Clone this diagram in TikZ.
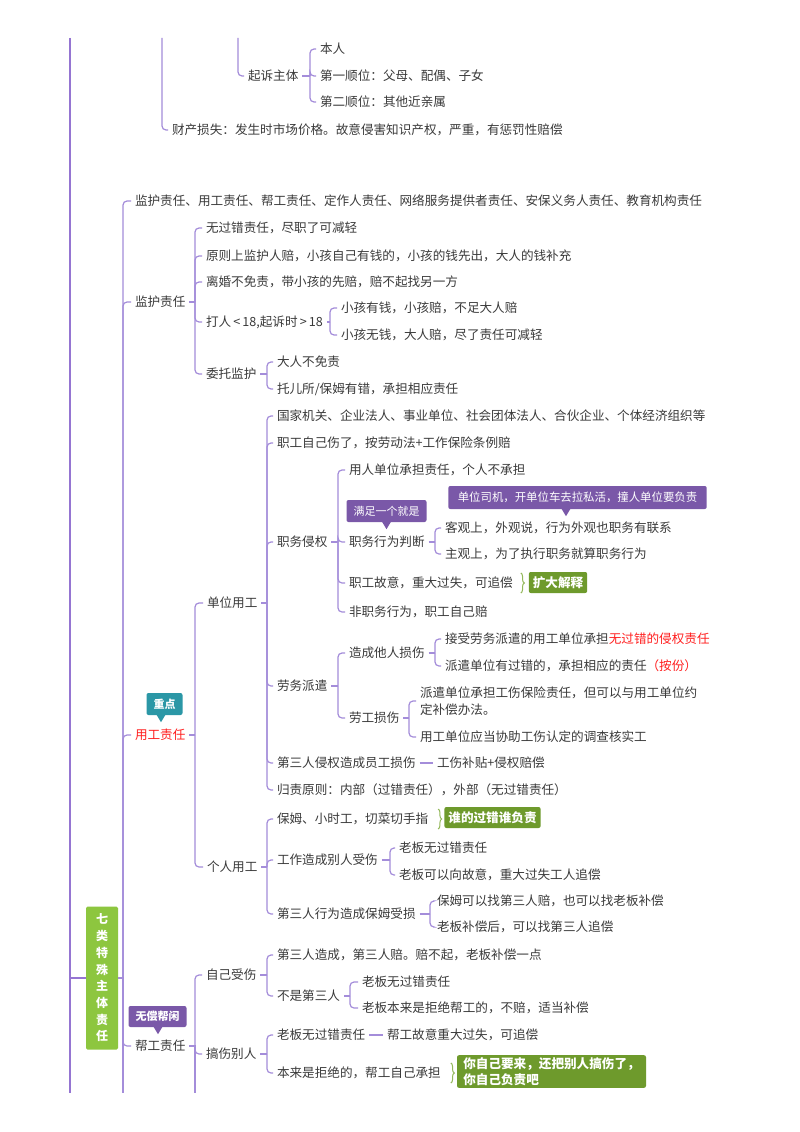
\documentclass[tikz,border=0pt]{standalone}
\usepackage{fontspec}
\setmainfont{Noto Sans CJK SC}
\usepackage{tikz}
\usetikzlibrary{positioning, decorations.pathreplacing}
\definecolor{inkGray}{HTML}{3A3A3A}
\definecolor{branchLilac}{HTML}{A48DDA}
\definecolor{trunkLilac}{HTML}{9575D2}
\definecolor{rootGreen}{HTML}{8DC63F}
\definecolor{notePurple}{HTML}{7A58A8}
\definecolor{noteTeal}{HTML}{2B97A6}
\definecolor{tagGreen}{HTML}{6E9A2C}
\definecolor{braceGreen}{HTML}{93B85A}
\definecolor{hotRed}{HTML}{FF1F1F}
\begin{document}
\begin{tikzpicture}[
    x=1pt, y=-1pt,
    leaf/.style={anchor=west, inner sep=4pt, outer sep=0pt, text=inkGray,
                 font=\fontsize{12.6}{17.5}\selectfont},
    branch/.style={draw=branchLilac, line width=1.2pt},
    limb/.style={branch, rounded corners=4pt},
    trunk/.style={draw=trunkLilac, line width=1.8pt},
    note/.style={fill=notePurple, text=white, rounded corners=2pt,
                 inner xsep=7pt, inner ysep=0pt, minimum height=22pt,
                 font=\fontsize{11}{13}\selectfont},
    tag/.style={fill=tagGreen, text=white, rounded corners=2pt,
                inner xsep=4pt, inner ysep=2pt, minimum height=21pt,
                font=\bfseries\fontsize{12.6}{16.5}\selectfont, align=left},
    gbrace/.style={draw=braceGreen, line width=1pt, decorate,
                   decoration={brace, amplitude=3.5pt}},
]
\path[use as bounding box, fill=white] (0,0) rectangle (800,1132);

% tail of the branch above
\coordinate (trunk-top) at (70,38);
\coordinate (trunk-end) at (70,1093);
\coordinate (ss-top) at (162,38);
\coordinate (qs-top) at (238,38);
\node[leaf] (qisu) at (244,76) {起诉主体};
\node[leaf] (benren) at (316,49) {本人};
\node[leaf] (shun1) at (316,76) {第一顺位：父母、配偶、子女};
\node[leaf] (shun2) at (316,102) {第二顺位：其他近亲属};
\node[leaf] (caichan) at (168,130) {财产损失：发生时市场价格。故意侵害知识产权，严重，有惩罚性赔偿};
\coordinate (qs-b) at (310,76);
\draw[trunk] (trunk-top) -- (trunk-end);
\draw[limb] (qs-top) |- (qisu);
\draw[limb] (ss-top) |- (caichan);
\draw[branch] (qisu) -- (qs-b);
\foreach \c in {benren,shun1,shun2}
  \draw[limb] (qs-b) |- (\c);

% root
\node[fill=rootGreen, text=white, rounded corners=1.5pt, minimum width=32pt,
      minimum height=143pt, inner sep=0pt, align=center,
      font=\bfseries\fontsize{12}{16.7}\selectfont]
    (root) at (102,978) {七\\类\\特\\殊\\主\\体\\责\\任};
\coordinate (trunk-root) at (70,978);
\coordinate (root-b) at (123,978);
\coordinate (root-end) at (123,1093);
\draw[trunk] (trunk-root) -- (root);
\draw[branch] (root) -- (root-b) -- (root-end);

\node[leaf] (list) at (131,201) {监护责任、用工责任、帮工责任、定作人责任、网络服务提供者责任、安保义务人责任、教育机构责任};
\node[leaf] (jianhu) at (131,302) {监护责任};
\node[leaf, text=hotRed] (yonggong) at (131,735) {用工责任};
\node[leaf] (banggong) at (131,1046) {帮工责任};
\foreach \c in {list,jianhu,yonggong,banggong}
  \draw[limb] (root-b) |- (\c);

% 监护责任
\node[leaf] (jh1) at (202,228) {无过错责任，尽职了可减轻};
\node[leaf] (jh2) at (202,256) {原则上监护人赔，小孩自己有钱的，小孩的钱先出，大人的钱补充};
\node[leaf] (jh3) at (202,282) {离婚不免责，带小孩的先赔，赔不起找另一方};
\node[leaf] (daren) at (202,322) {打人\,<\,18,起诉时\,>\,18};
\node[leaf] (weituo) at (202,374) {委托监护};
\coordinate (jh-b) at (195,302);
\draw[branch] (jianhu) -- (jh-b);
\foreach \c in {jh1,jh2,jh3,daren,weituo}
  \draw[limb] (jh-b) |- (\c);

\node[leaf] (dr1) at (337,308) {小孩有钱，小孩赔，不足大人赔};
\node[leaf] (dr2) at (337,335) {小孩无钱，大人赔，尽了责任可减轻};
\coordinate (dr-b) at (330,322);
\draw[branch] (daren) -- (dr-b);
\foreach \c in {dr1,dr2}
  \draw[limb] (dr-b) |- (\c);

\node[leaf] (wt1) at (273,362) {大人不免责};
\node[leaf] (wt2) at (273,389) {托儿所/保姆有错，承担相应责任};
\coordinate (wt-b) at (267,374);
\draw[branch] (weituo) -- (wt-b);
\foreach \c in {wt1,wt2}
  \draw[limb] (wt-b) |- (\c);

% 用工责任
\node[leaf] (danwei) at (203,603) {单位用工};
\node[leaf] (geren) at (203,867) {个人用工};
\coordinate (yg-b) at (195,735);
\draw[branch] (yonggong) -- (yg-b);
\foreach \c in {danwei,geren}
  \draw[limb] (yg-b) |- (\c);

\node[leaf] (dw1) at (273,416) {国家机关、企业法人、事业单位、社会团体法人、合伙企业、个体经济组织等};
\node[leaf] (dw2) at (273,443) {职工自己伤了，按劳动法+工作保险条例赔};
\node[leaf] (zhiwu) at (273,542) {职务侵权};
\node[leaf] (laowu) at (273,686) {劳务派遣};
\node[leaf] (disan) at (273,763) {第三人侵权造成员工损伤};
\node[leaf] (guize) at (273,790) {归责原则：内部（过错责任），外部（无过错责任）};
\coordinate (dw-b) at (267,603);
\draw[branch] (danwei) -- (dw-b);
\foreach \c in {dw1,dw2,zhiwu,laowu,disan,guize}
  \draw[limb] (dw-b) |- (\c);

\node[leaf] (zw1) at (345,470) {用人单位承担责任，个人不承担};
\node[leaf] (panduan) at (345,542) {职务行为判断};
\node[leaf] (zw3) at (345,583) {职工故意，重大过失，可追偿};
\node[leaf] (zw4) at (345,612) {非职务行为，职工自己赔};
\coordinate (zw-b) at (338,542);
\draw[branch] (zhiwu) -- (zw-b);
\foreach \c in {zw1,panduan,zw3,zw4}
  \draw[limb] (zw-b) |- (\c);

\node[leaf] (pd1) at (441,528) {客观上，外观说，行为外观也职务有联系};
\node[leaf] (pd2) at (441,554) {主观上，为了执行职务就算职务行为};
\coordinate (pd-b) at (435,542);
\draw[branch] (panduan) -- (pd-b);
\foreach \c in {pd1,pd2}
  \draw[limb] (pd-b) |- (\c);

\node[leaf] (tasun) at (345,653) {造成他人损伤};
\node[leaf] (laogong) at (345,718) {劳工损伤};
\coordinate (lw-b) at (338,686);
\draw[branch] (laowu) -- (lw-b);
\foreach \c in {tasun,laogong}
  \draw[limb] (lw-b) |- (\c);

\node[leaf] (ts1) at (441,639) {接受劳务派遣的用工单位承担{\color{hotRed}无过错的侵权责任}};
\node[leaf] (ts2) at (441,666) {派遣单位有过错的，承担相应的责任{\color{hotRed}（按份）}};
\coordinate (ts-b) at (435,653);
\draw[branch] (tasun) -- (ts-b);
\foreach \c in {ts1,ts2}
  \draw[limb] (ts-b) |- (\c);

\node[leaf, align=left] (lg1) at (416,701) {派遣单位承担工伤保险责任，但可以与用工单位约\\定补偿办法。};
\node[leaf] (lg2) at (416,737) {用工单位应当协助工伤认定的调查核实工};
\coordinate (lg-b) at (409,718);
\draw[branch] (laogong) -- (lg-b);
\foreach \c in {lg1,lg2}
  \draw[limb] (lg-b) |- (\c);

\node[leaf] (ds1) at (433,763) {工伤补贴+侵权赔偿};
\draw[branch] (disan) -- (ds1);

\node[leaf] (gr1) at (273,819) {保姆、小时工，切菜切手指};
\node[leaf] (gongzuo) at (273,860) {工作造成别人受伤};
\node[leaf] (baomu) at (273,914) {第三人行为造成保姆受损};
\coordinate (gr-b) at (267,867);
\draw[branch] (geren) -- (gr-b);
\foreach \c in {gr1,gongzuo,baomu}
  \draw[limb] (gr-b) |- (\c);

\node[leaf] (gz1) at (395,848) {老板无过错责任};
\node[leaf] (gz2) at (395,875) {老板可以向故意，重大过失工人追偿};
\coordinate (gz-b) at (390,860);
\draw[branch] (gongzuo) -- (gz-b);
\foreach \c in {gz1,gz2}
  \draw[limb] (gz-b) |- (\c);

\node[leaf] (bm1) at (433,901) {保姆可以找第三人赔，也可以找老板补偿};
\node[leaf] (bm2) at (433,927) {老板补偿后，可以找第三人追偿};
\coordinate (bm-b) at (430,914);
\draw[branch] (baomu) -- (bm-b);
\foreach \c in {bm1,bm2}
  \draw[limb] (bm-b) |- (\c);

% 帮工责任
\node[leaf] (zishang) at (202,975) {自己受伤};
\node[leaf] (gaoshang) at (202,1054) {搞伤别人};
\coordinate (bg-b) at (195,1046);
\coordinate (bg-end) at (195,1093);
\draw[branch] (banggong) -- (bg-b) -- (bg-end);
\foreach \c in {zishang,gaoshang}
  \draw[limb] (bg-b) |- (\c);

\node[leaf] (zs1) at (273,955) {第三人造成，第三人赔。赔不起，老板补偿一点};
\node[leaf] (bushi) at (273,996) {不是第三人};
\coordinate (zs-b) at (267,975);
\draw[branch] (zishang) -- (zs-b);
\foreach \c in {zs1,bushi}
  \draw[limb] (zs-b) |- (\c);

\node[leaf] (bs1) at (358,982) {老板无过错责任};
\node[leaf] (bs2) at (358,1008) {老板本来是拒绝帮工的，不赔，适当补偿};
\coordinate (bs-b) at (350,996);
\draw[branch] (bushi) -- (bs-b);
\foreach \c in {bs1,bs2}
  \draw[limb] (bs-b) |- (\c);

\node[leaf] (gs1) at (273,1035) {老板无过错责任};
\node[leaf] (gs2) at (273,1073) {本来是拒绝的，帮工自己承担};
\coordinate (gs-b) at (267,1054);
\draw[branch] (gaoshang) -- (gs-b);
\foreach \c in {gs1,gs2}
  \draw[limb] (gs-b) |- (\c);
\node[leaf] (gs1a) at (383,1035) {帮工故意重大过失，可追偿};
\draw[branch] (gs1) -- (gs1a);

% notes over nodes
\node[note] (note1) at (386.5,511) {满足一个就是};
\fill[notePurple] ([xshift=-4.5pt, yshift=0.5pt]note1.south) -- ([xshift=4.5pt, yshift=0.5pt]note1.south)
    -- ([yshift=-7pt]note1.south) -- cycle;
\node[note, minimum height=23pt, inner xsep=9.5pt, font=\fontsize{11.4}{13}\selectfont]
    (note2) at (577.5,497.5) {单位司机，开单位车去拉私活，撞人单位要负责};
\fill[notePurple] ([xshift=-16pt, yshift=0.5pt]note2.south) -- ([xshift=-7pt, yshift=0.5pt]note2.south)
    -- ([xshift=-11.5pt, yshift=-7pt]note2.south) -- cycle;
\node[note, fill=noteTeal, font=\bfseries\fontsize{11}{13}\selectfont] (note3) at (164.5,704) {重点};
\fill[noteTeal] ([xshift=-8pt, yshift=0.5pt]note3.south) -- ([xshift=1pt, yshift=0.5pt]note3.south)
    -- ([xshift=-3.5pt, yshift=-7pt]note3.south) -- cycle;
\node[note, minimum height=21pt, font=\bfseries\fontsize{11}{13}\selectfont] (note4) at (157.5,1016.5) {无偿帮闲};
\fill[notePurple] ([xshift=-4pt, yshift=0.5pt]note4.south) -- ([xshift=5pt, yshift=0.5pt]note4.south)
    -- ([xshift=0.5pt, yshift=-7pt]note4.south) -- cycle;

% green summaries
\node[tag] (tag1) at (558,582.5) {扩大解释};
\draw[gbrace] ([xshift=4pt]zw3.north east) -- ([xshift=4pt]zw3.south east);
\node[tag] (tag2) at (492.5,817.5) {谁的过错谁负责};
\draw[gbrace] ([xshift=6pt]gr1.north east) -- ([xshift=6pt]gr1.south east);
\node[tag, inner xsep=5pt, minimum width=189pt] (tag3) at (551.5,1071.5) {你自己要来，还把别人搞伤了，\\你自己负责吧};
\draw[gbrace] ([xshift=6pt]gs2.north east) -- ([xshift=6pt]gs2.south east);
\end{tikzpicture}
\end{document}
